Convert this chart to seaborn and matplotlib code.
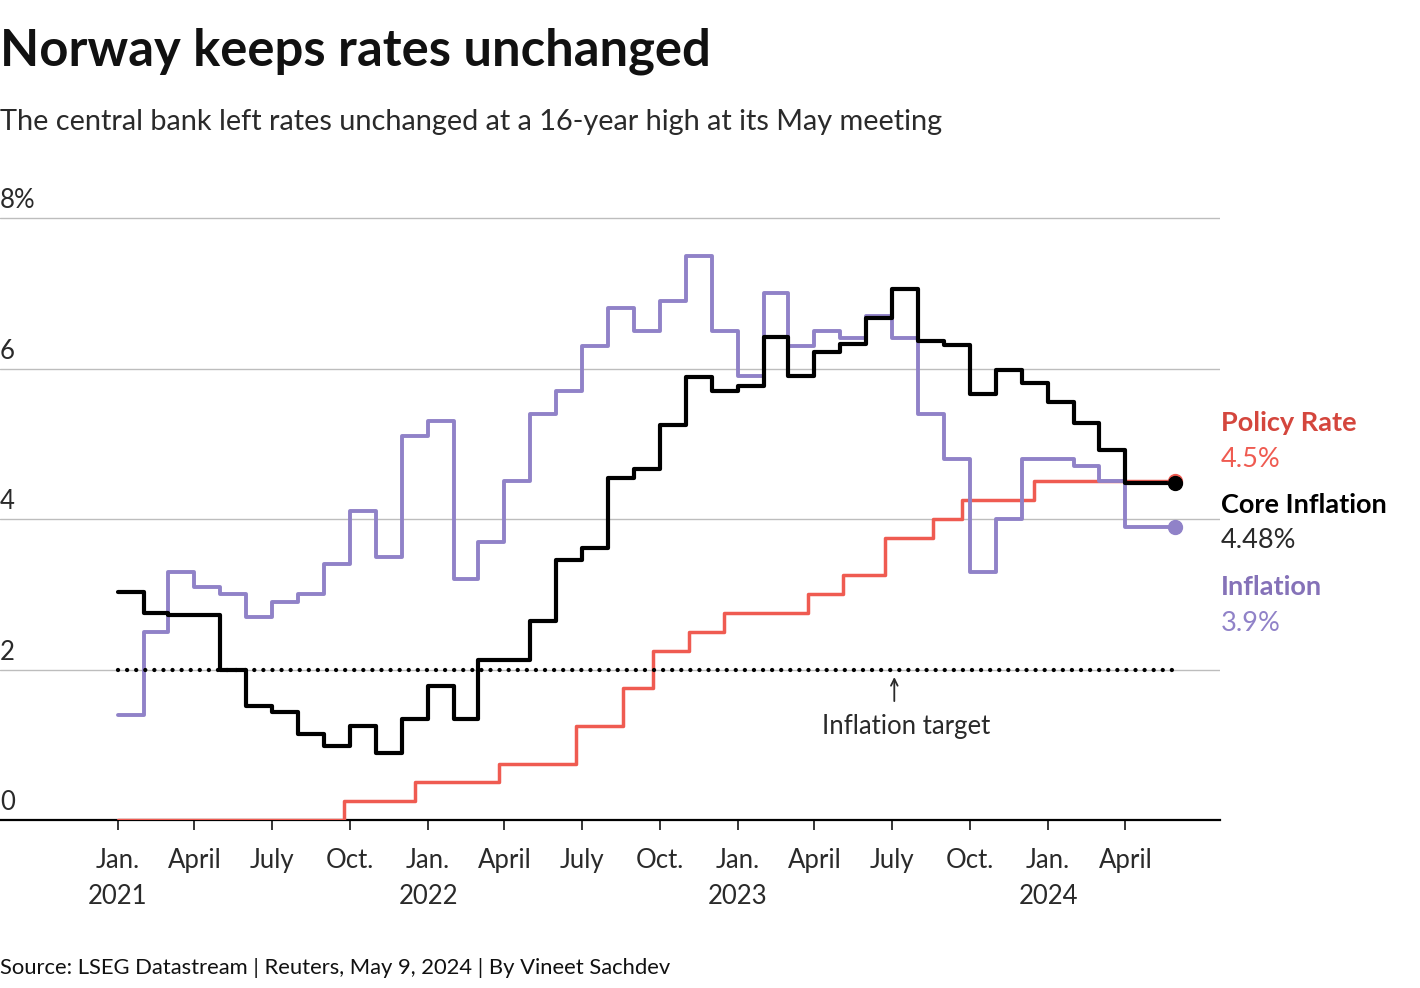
import numpy as np
import pandas as pd
import matplotlib
matplotlib.use("Agg")
import matplotlib.pyplot as plt
import matplotlib.transforms as mtransforms
import seaborn as sns

# ---------------- data ----------------
months = pd.date_range("2021-01-01", "2024-04-01", freq="MS")
inflation = [1.4, 2.5, 3.3, 3.1, 3.0, 2.7, 2.9, 3.0, 3.4, 4.1, 3.5, 5.1,
             5.3, 3.2, 3.7, 4.5, 5.4, 5.7, 6.3, 6.8, 6.5, 6.9, 7.5, 6.5,
             5.9, 7.0, 6.3, 6.5, 6.4, 6.7, 6.4, 5.4, 4.8, 3.3, 4.0, 4.8,
             4.8, 4.7, 4.5, 3.9]
core_inflation = [3.03, 2.75, 2.72, 2.72, 2.0, 1.51, 1.43, 1.14, 0.98, 1.25, 0.89, 1.34,
                  1.78, 1.34, 2.13, 2.13, 2.64, 3.45, 3.62, 4.55, 4.67, 5.25, 5.89, 5.70,
                  5.77, 6.42, 5.90, 6.22, 6.33, 6.67, 7.06, 6.37, 6.31, 5.66, 5.98, 5.81,
                  5.55, 5.28, 4.92, 4.48]
policy_dates = ["2021-01-01", "2021-09-24", "2021-12-17", "2022-03-25", "2022-06-24",
                "2022-08-19", "2022-09-23", "2022-11-04", "2022-12-16", "2023-03-24",
                "2023-05-05", "2023-06-23", "2023-08-18", "2023-09-22", "2023-12-15"]
policy_rate = [0.0, 0.25, 0.5, 0.75, 1.25, 1.75, 2.25, 2.5, 2.75, 3.0,
               3.25, 3.75, 4.0, 4.25, 4.5]
end_date = "2024-05-30"
target_value = 2.0
y_ticks = [0, 2, 4, 6, 8]
y_tick_labels = ["0", "2", "4", "6", "8%"]
x_tick_dates = pd.date_range("2021-01-01", "2024-04-01", freq="QS")
x_tick_labels = ["Jan.\n2021", "April", "July", "Oct.",
                 "Jan.\n2022", "April", "July", "Oct.",
                 "Jan.\n2023", "April", "July", "Oct.",
                 "Jan.\n2024", "April"]
legend_items = [("Policy Rate", "4.5%"), ("Core Inflation", "4.48%"), ("Inflation", "3.9%")]

# ---------------- styling ----------------
sns.set_theme(style="white")
plt.rcParams["font.family"] = ["Lato", "DejaVu Sans"]

RED = "#ef5b51"
RED_LABEL = "#d4463d"
PURPLE = "#9082c8"
PURPLE_LABEL = "#8572b8"
BLACK = "#000000"
TXT = "#2a2a2a"

W, H = 1420, 988
fig = plt.figure(figsize=(W / 100, H / 100), dpi=100)
ax = fig.add_axes([0, (H - 820) / H, 1220 / W, (820 - 203) / H])

end = pd.Timestamp(end_date)

def series_frame(dates, values):
    d = list(pd.to_datetime(dates)) + [end]
    v = list(values) + [values[-1]]
    return pd.DataFrame({"date": d, "value": v})

df_policy = series_frame(policy_dates, policy_rate)
df_infl = series_frame(months, inflation)
df_core = series_frame(months, core_inflation)

sns.lineplot(data=df_policy, x="date", y="value", ax=ax, color=RED, lw=2.5,
             drawstyle="steps-post", estimator=None, zorder=3)
sns.lineplot(data=df_infl, x="date", y="value", ax=ax, color=PURPLE, lw=2.8,
             drawstyle="steps-post", estimator=None, zorder=4)
sns.lineplot(data=df_core, x="date", y="value", ax=ax, color=BLACK, lw=3.0,
             drawstyle="steps-post", estimator=None, zorder=5)

# end dots
ax.plot([end], [policy_rate[-1]], "o", color=RED, ms=10, zorder=6)
ax.plot([end], [inflation[-1]], "o", color=PURPLE, ms=10, zorder=6)
ax.plot([end], [core_inflation[-1]], "o", color=BLACK, ms=10, zorder=7)

# inflation target
ax.plot([months[0], end], [target_value, target_value], color=BLACK, lw=3.1,
        linestyle=(0, (0.01, 2.1)), dash_capstyle="round", zorder=8)
arrow_x = pd.Timestamp("2023-07-04")
ax.annotate("", xy=(arrow_x, 1.90), xytext=(arrow_x, 1.58),
            arrowprops=dict(arrowstyle="->", color=TXT, lw=1.3, shrinkA=0, shrinkB=0))
ax.text(pd.Timestamp("2023-07-18"), 1.24, "Inflation target", ha="center", va="center",
        fontsize=18.5, color=TXT)

# axes
x0 = pd.Timestamp("2021-01-01")
ax.set_xlim(x0 - pd.Timedelta(days=139), x0 + pd.Timedelta(days=1297.5))
ax.set_ylim(0, 8.2)
ax.set_yticks(y_ticks)
ax.yaxis.grid(True, color="#bdbdbd", lw=1.0)
ax.xaxis.grid(False)
ax.tick_params(axis="y", left=False, labelleft=False)
ax.set_xticks(x_tick_dates)
ax.set_xticklabels(x_tick_labels, fontsize=18.5, color=TXT, linespacing=1.55)
ax.tick_params(axis="x", direction="out", length=7.5, width=1.1, color="black", pad=13,
               bottom=True)
ax.set_xlabel("")
ax.set_ylabel("")
for s in ["left", "right", "top"]:
    ax.spines[s].set_visible(False)
ax.spines["bottom"].set_color("black")
ax.spines["bottom"].set_linewidth(1.6)
ax.spines["bottom"].set_zorder(2)

ytrans = mtransforms.blended_transform_factory(ax.transAxes, ax.transData)
ytrans = mtransforms.offset_copy(ytrans, fig=fig, x=0, y=10, units="dots")
for v, lab in zip(y_ticks, y_tick_labels):
    ax.text(0.0, v, lab, transform=ytrans, ha="left", va="baseline",
            fontsize=18.5, color=TXT)

# right labels
label_x = 1221 / W
ys = [423, 459, 505, 541, 587, 623]
cols = [(RED_LABEL, RED), (BLACK, TXT), (PURPLE_LABEL, PURPLE)]
for i, ((name, val), (c1, c2)) in enumerate(zip(legend_items, cols)):
    fig.text(label_x, 1 - ys[2 * i] / H, name, ha="left", va="center",
             fontsize=19.5, fontweight="bold", color=c1)
    fig.text(label_x, 1 - ys[2 * i + 1] / H, val, ha="left", va="center",
             fontsize=19.5, color=c2)

# titles
fig.text(0.0, 1 - 51 / H, "Norway keeps rates unchanged", ha="left", va="center",
         fontsize=36.5, fontweight="bold", color="#111111")
fig.text(0.0, 1 - 122 / H, "The central bank left rates unchanged at a 16-year high at its May meeting",
         ha="left", va="center", fontsize=20.8, color=TXT)
fig.text(0.0, 1 - 968 / H, "Source: LSEG Datastream | Reuters, May 9, 2024 | By Vineet Sachdev",
         ha="left", va="center", fontsize=15.8, color="#111111")

fig.savefig("out.png", dpi=100)
